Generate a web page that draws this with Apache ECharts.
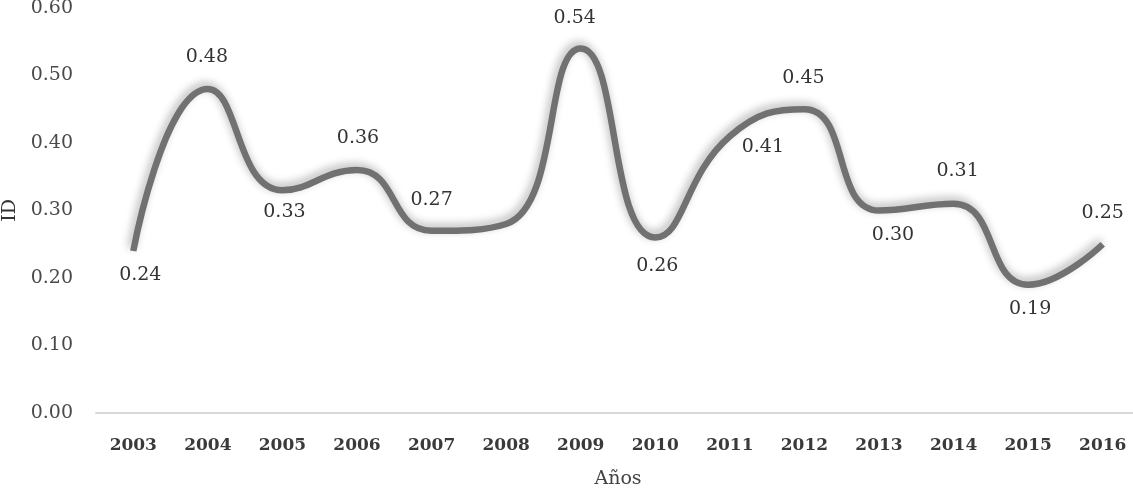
<!DOCTYPE html>
<html><head><meta charset="utf-8">
<script src="https://cdn.jsdelivr.net/npm/echarts@6/dist/echarts.min.js"></script>
<style>html,body{margin:0;padding:0;background:#fff}#c{width:1133px;height:489px}</style>
</head><body><div id="c"></div>
<script>
const categories = ['2003','2004','2005','2006','2007','2008','2009','2010','2011','2012','2013','2014','2015','2016'];
const values = [0.24,0.48,0.33,0.36,0.27,0.28,0.54,0.26,0.41,0.45,0.30,0.31,0.19,0.25];
const showLabel = [true,true,true,true,true,false,true,true,true,true,true,true,true,true];
// label placement relative to each point (styling, not data)
const labelShift = [[7,24],[-1,-32],[2,22],[1,-32],[0,-31],[0,0],[-6,-30],[2,29],[33,11],[-1,-31],[14,25],[4,-33],[2,24],[0,-31]];
const yTicks = [0,0.1,0.2,0.3,0.4,0.5,0.6];

const font = 'DejaVu Serif';
const data = values.map((v,i)=>({
  value:v,
  label:{show: showLabel[i], position:'inside', offset: labelShift[i]}
}));
const chart = echarts.init(document.getElementById('c'));
chart.setOption({
  animation:false,
  grid:{left:96,right:-7,top:8,bottom:76,outerBoundsMode:'none',containLabel:false},
  xAxis:{
    type:'category', data:categories, boundaryGap:true,
    name:'Años', nameLocation:'middle', nameGap:57,
    nameTextStyle:{fontFamily:font,fontSize:19,color:'#444'},
    axisLine:{lineStyle:{color:'#d9d9d9',width:2}},
    axisTick:{show:false},
    axisLabel:{fontFamily:font,fontSize:17,color:'#3a3a3a',margin:24,fontWeight:'bold'}
  },
  yAxis:{
    type:'value', min:yTicks[0], max:yTicks[yTicks.length-1], interval:0.1,
    name:'ID', nameLocation:'middle', nameGap:71, nameRotate:90,
    nameTextStyle:{fontFamily:font,fontSize:19,color:'#333'},
    axisLine:{show:false}, axisTick:{show:false}, splitLine:{show:false},
    axisLabel:{fontFamily:font,fontSize:19,color:'#4a4a4a',margin:23,
      formatter:v=>v.toFixed(2)}
  },
  series:[{
    type:'line', data:data, smooth:0.5, symbol:'circle', symbolSize:0, showSymbol:true,
    itemStyle:{color:'#717171'},
    lineStyle:{color:'#717171',width:6.5,shadowColor:'rgba(0,0,0,0.3)',shadowBlur:9,shadowOffsetX:-2,shadowOffsetY:-3},
    label:{fontFamily:font,fontSize:19,color:'#333',
      formatter:p=>p.value.toFixed(2)}
  }]
});
</script></body></html>
